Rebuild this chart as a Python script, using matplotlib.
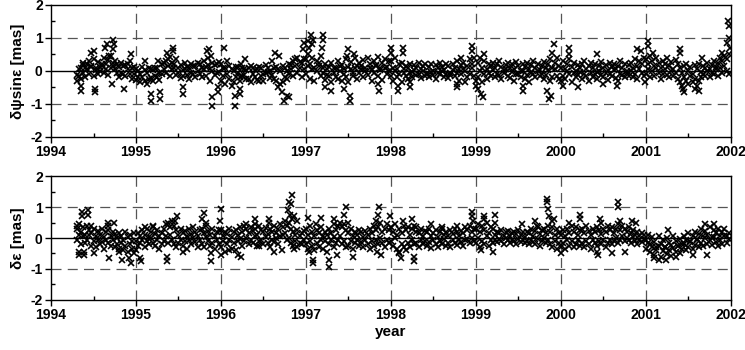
import numpy as np
import matplotlib
matplotlib.use("Agg")
from matplotlib import pyplot as plt
from matplotlib.ticker import MultipleLocator

plt.rcParams["font.family"] = ["Liberation Sans", "DejaVu Sans"]
plt.rcParams["font.weight"] = "bold"
plt.rcParams["axes.unicode_minus"] = False

# session epochs: one every 0.025 yr from 1994.300 to 2001.975
epochs = np.round(np.arange(1994.30, 2001.99, 0.025), 3)

# dpsi*sin(eps) [mas], two solutions per epoch, one row per year
dpsi_a = [
    -0.12, 0.05, -0.25, 0.18, 0.10, 0.22, 0.30, 0.15, 0.35, 0.08, 0.28, 0.12, 0.20, 0.40, 0.05, 0.32, 0.45, 0.15, 0.30, -0.05, 0.12, 0.25, -0.10, 0.18, 0.05, 0.30, 0.10, -0.08,
    0.05, -0.20, -0.10, 0.12, -0.30, -0.05, 0.08, -0.22, 0.02, -0.15, 0.10, -0.28, 0.20, 0.05, 0.30, 0.15, 0.42, 0.25, 0.10, 0.35, -0.05, 0.18, 0.02, 0.25, -0.12, 0.08, 0.20, -0.08, 0.15, 0.00, 0.22, 0.10, 0.30, 0.12, 0.40, 0.05, 0.25, 0.18, -0.05, 0.28,
    0.20, -0.15, 0.10, 0.30, -0.25, 0.05, -0.35, 0.12, -0.05, -0.20, 0.10, -0.12, 0.02, -0.25, 0.15, -0.08, -0.18, 0.05, -0.30, 0.08, -0.10, 0.18, -0.02, -0.22, 0.30, 0.10, -0.30, 0.05, -0.40, 0.15, -0.20, 0.00, 0.22, 0.05, 0.30, 0.15, 0.40, 0.10, 0.25, 0.35,
    0.35, 0.50, 0.20, 0.40, 0.10, 0.30, 0.15, 0.45, -0.05, 0.20, 0.05, -0.15, 0.25, 0.10, -0.20, 0.30, 0.00, 0.18, -0.10, 0.35, 0.12, 0.28, -0.05, 0.40, 0.15, 0.25, 0.05, 0.32, 0.10, 0.38, 0.22, 0.05, 0.30, 0.15, 0.42, 0.08, 0.25, 0.35, 0.12, 0.30,
    0.30, 0.10, 0.40, 0.05, 0.20, 0.25, -0.05, 0.15, 0.08, 0.22, -0.02, 0.18, 0.10, 0.25, 0.05, 0.15, 0.20, -0.05, 0.12, 0.22, 0.00, 0.18, 0.08, 0.25, 0.12, 0.02, 0.20, 0.15, -0.05, 0.22, 0.10, 0.30, 0.05, 0.18, 0.25, 0.00, 0.15, 0.35, 0.20, 0.40,
    -0.30, 0.25, 0.40, 0.10, 0.30, 0.05, 0.22, 0.15, 0.25, 0.08, 0.20, 0.30, 0.12, 0.02, 0.18, 0.25, 0.10, 0.22, 0.05, 0.28, 0.15, 0.00, 0.20, 0.12, 0.25, 0.05, 0.18, 0.30, 0.10, 0.22, 0.02, 0.15, 0.28, 0.08, 0.20, 0.35, 0.10, 0.25, 0.40, 0.15,
    0.10, 0.30, 0.05, 0.20, 0.35, 0.12, 0.25, 0.00, 0.18, 0.08, 0.22, 0.30, 0.05, 0.15, 0.25, 0.10, 0.20, -0.02, 0.15, 0.28, 0.08, 0.18, 0.02, 0.25, 0.12, 0.20, 0.05, 0.15, 0.30, 0.10, 0.22, 0.00, 0.18, 0.25, 0.08, 0.35, 0.15, 0.30, 0.20, 0.40,
    0.35, 0.20, 0.45, 0.30, 0.15, 0.40, 0.25, 0.10, 0.30, 0.22, 0.38, 0.15, 0.28, 0.05, 0.32, 0.20, 0.10, -0.05, 0.15, 0.20, 0.00, 0.12, -0.10, 0.18, 0.05, 0.22, -0.02, 0.15, 0.10, 0.25, 0.05, 0.18, 0.30, 0.12, 0.25, 0.40, 0.30, 0.45, 0.35, 0.50,
]
dpsi_b = [
    -0.30, -0.15, 0.10, -0.05, -0.20, 0.05, -0.08, 0.12, -0.15, 0.02, -0.10, 0.00, 0.15, -0.05, 0.22, -0.12, 0.10, 0.25, 0.05, 0.20, -0.20, -0.05, 0.15, -0.15, 0.22, -0.10, -0.25, 0.12,
    -0.28, 0.00, -0.35, -0.18, 0.02, -0.40, -0.25, 0.05, -0.32, 0.08, -0.20, -0.05, -0.10, 0.25, -0.05, 0.35, -0.15, 0.05, 0.22, -0.12, 0.10, -0.22, -0.15, 0.05, 0.12, -0.25, -0.05, 0.15, -0.18, 0.25, -0.10, -0.20, 0.05, -0.15, 0.18, -0.30, 0.00, -0.12, 0.20, -0.02,
    -0.30, 0.08, -0.40, -0.10, 0.15, -0.45, 0.00, -0.20, 0.12, -0.30, -0.15, 0.05, -0.25, 0.08, -0.35, 0.10, 0.02, -0.28, 0.12, -0.15, -0.32, -0.05, 0.10, 0.00, -0.12, -0.25, 0.12, -0.50, 0.00, -0.35, 0.10, -0.25, -0.10, 0.18, -0.15, 0.35, -0.05, 0.28, -0.20, 0.05,
    -0.10, 0.15, -0.25, 0.05, -0.30, 0.00, 0.25, -0.15, 0.10, -0.28, -0.12, 0.12, -0.35, -0.05, 0.08, -0.25, 0.15, -0.30, 0.05, -0.20, -0.35, 0.05, -0.15, 0.10, -0.25, -0.05, 0.15, -0.18, 0.00, -0.12, 0.08, -0.30, -0.05, 0.18, -0.15, 0.02, -0.28, 0.10, -0.10, 0.00,
    -0.15, -0.30, 0.00, -0.20, -0.10, -0.35, 0.05, -0.15, -0.25, -0.05, -0.18, 0.02, -0.12, -0.08, -0.22, 0.00, -0.15, -0.10, -0.20, -0.02, -0.12, -0.25, -0.05, -0.10, 0.00, -0.18, -0.08, -0.22, -0.12, 0.02, -0.15, -0.05, -0.30, -0.10, 0.05, -0.35, -0.20, -0.08, 0.10, -0.15,
    -0.45, -0.20, 0.00, -0.35, -0.10, -0.25, -0.05, -0.15, 0.02, -0.20, -0.08, -0.12, -0.25, -0.05, 0.05, -0.15, -0.22, -0.02, -0.30, -0.10, -0.08, -0.18, 0.00, -0.25, -0.12, -0.35, -0.05, -0.10, -0.20, 0.00, -0.15, -0.08, -0.25, -0.12, 0.02, -0.30, -0.18, 0.05, -0.15, -0.25,
    -0.30, -0.15, -0.25, 0.00, -0.10, -0.35, -0.05, -0.20, -0.12, -0.02, -0.25, -0.08, -0.15, -0.30, -0.05, -0.18, -0.10, -0.25, 0.00, -0.12, -0.20, -0.05, -0.28, -0.10, -0.15, 0.02, -0.22, -0.30, -0.08, -0.12, -0.18, -0.05, -0.15, 0.00, -0.20, -0.10, -0.25, 0.05, -0.05, -0.15,
    -0.10, 0.05, -0.20, 0.00, -0.15, 0.08, -0.05, -0.25, -0.10, 0.05, -0.12, -0.20, 0.00, -0.15, -0.05, -0.25, -0.35, -0.45, -0.20, -0.30, -0.40, -0.15, -0.35, -0.25, -0.45, -0.30, -0.20, -0.10, -0.15, 0.00, -0.20, -0.05, -0.10, 0.05, -0.15, 0.10, -0.05, 0.15, 0.00, -0.10,
]
# scattered single solutions away from the main band (epoch, value)
dpsi_outliers = [
    (1994.35, -0.45), (1994.35, -0.60), (1994.38, 0.25), (1994.47, 0.55), (1994.50, 0.60), (1994.52, -0.55),
    (1994.52, -0.65), (1994.64, 0.70), (1994.66, 0.80), (1994.68, 0.45), (1994.73, 0.95), (1994.74, 0.80),
    (1994.73, 0.65), (1994.72, -0.40), (1994.86, -0.55), (1994.94, 0.50), (1995.10, 0.30), (1995.18, -0.70),
    (1995.18, -0.90), (1995.28, -0.65), (1995.28, -0.85), (1995.26, 0.30), (1995.36, 0.55), (1995.44, 0.70),
    (1995.44, 0.60), (1995.55, -0.50), (1995.55, -0.70), (1995.84, 0.60), (1995.86, 0.65), (1995.88, 0.45),
    (1995.90, -0.80), (1995.90, -1.05), (1995.96, -0.50), (1995.96, -0.65), (1996.04, 0.70), (1996.17, -0.75),
    (1996.17, -1.05), (1996.22, -0.70), (1996.22, -0.55), (1996.24, 0.20), (1996.28, 0.35), (1996.63, 0.55),
    (1996.68, 0.45), (1996.72, -0.65), (1996.74, -0.90), (1996.78, -0.75), (1996.80, -0.80), (1996.97, 0.65),
    (1996.98, 0.85), (1997.02, 0.90), (1997.04, 0.70), (1997.06, 1.10), (1997.08, 0.95), (1997.07, 0.80),
    (1997.20, 1.10), (1997.20, 0.95), (1997.19, 0.70), (1997.22, -0.50), (1997.30, -0.60), (1997.45, -0.55),
    (1997.48, 0.45), (1997.50, 0.65), (1997.52, -0.75), (1997.52, -0.90), (1997.57, 0.50), (1997.85, -0.40),
    (1997.86, -0.60), (1998.00, 0.70), (1998.00, 0.55), (1998.08, -0.45), (1998.08, -0.60), (1998.14, 0.70),
    (1998.14, 0.55), (1998.23, -0.35), (1998.23, -0.50), (1998.78, -0.40), (1998.78, -0.50), (1998.95, 0.75),
    (1998.95, 0.60), (1998.82, 0.40), (1999.02, -0.55), (1999.06, -0.70), (1999.08, -0.80), (1999.10, 0.50),
    (1999.55, -0.45), (1999.55, -0.60), (1999.84, -0.60), (1999.86, -0.85), (1999.88, -0.75), (1999.92, 0.80),
    (1999.90, 0.55), (2000.02, -0.45), (2000.10, 0.70), (2000.10, 0.50), (2000.20, -0.50), (2000.42, 0.50),
    (2000.50, -0.40), (2000.66, -0.45), (2000.90, 0.65), (2000.94, 0.60), (2000.99, -0.35), (2001.02, 0.90),
    (2001.02, 0.75), (2001.08, 0.55), (2001.40, 0.65), (2001.40, 0.55), (2001.44, -0.55), (2001.45, -0.65),
    (2001.58, -0.55), (2001.62, -0.60), (2001.66, 0.40), (2001.90, 0.55), (2001.97, 1.50), (2001.98, 1.35),
    (2001.98, 1.00), (2001.96, 0.85), (2001.99, 0.70),
]

# d-eps [mas]
deps_a = [
    0.30, 0.45, 0.20, 0.35, 0.10, 0.40, 0.25, 0.15, 0.30, 0.05, 0.22, 0.10, 0.28, 0.02, 0.18, 0.25, 0.05, 0.20, 0.12, 0.00, 0.15, 0.08, -0.05, 0.20, 0.02, 0.10, -0.10, 0.15,
    -0.10, 0.15, 0.05, 0.25, 0.10, 0.30, 0.02, 0.20, 0.35, 0.12, 0.25, 0.05, 0.15, 0.30, 0.45, 0.50, 0.35, 0.55, 0.40, 0.25, 0.10, 0.30, 0.15, 0.22, 0.05, 0.28, 0.12, 0.35, 0.20, 0.08, 0.25, 0.30, 0.15, 0.40, 0.22, 0.10, 0.30, 0.05, 0.18, 0.25,
    0.25, 0.05, 0.20, 0.12, 0.30, 0.02, 0.18, 0.25, 0.10, 0.35, 0.20, 0.40, 0.28, 0.15, 0.35, 0.22, 0.30, 0.10, 0.40, 0.25, 0.18, 0.32, 0.12, 0.28, 0.20, 0.38, 0.15, 0.30, 0.45, 0.35, 0.55, 0.40, 0.50, 0.30, 0.20, 0.10, 0.25, 0.05, 0.15, 0.22,
    0.30, 0.10, 0.40, 0.20, 0.05, 0.25, 0.15, 0.35, 0.05, 0.20, 0.10, 0.30, 0.15, 0.02, 0.25, 0.40, 0.50, 0.35, 0.45, 0.25, 0.15, 0.30, 0.05, 0.20, 0.10, 0.25, 0.18, 0.02, 0.22, 0.10, 0.30, 0.15, 0.40, 0.25, 0.35, 0.50, 0.20, 0.30, 0.45, 0.25,
    0.35, 0.20, 0.45, 0.10, 0.30, 0.15, 0.40, 0.25, 0.35, 0.10, 0.30, 0.40, 0.20, 0.15, 0.30, 0.05, 0.22, 0.18, 0.28, 0.08, 0.15, 0.25, 0.02, 0.20, 0.30, 0.10, 0.18, 0.05, 0.25, 0.12, 0.30, 0.20, 0.08, 0.22, 0.15, 0.35, 0.25, 0.40, 0.20, 0.30,
    0.30, 0.45, 0.20, 0.40, 0.25, 0.50, 0.15, 0.35, 0.28, 0.10, 0.20, 0.15, 0.25, 0.08, 0.18, 0.22, 0.05, 0.15, 0.20, 0.12, 0.25, 0.10, 0.18, 0.02, 0.20, 0.15, 0.28, 0.08, 0.22, 0.35, 0.12, 0.25, 0.30, 0.15, 0.40, 0.20, 0.35, 0.10, 0.30, 0.15,
    0.10, 0.25, 0.05, 0.30, 0.15, 0.40, 0.20, 0.35, 0.10, 0.25, 0.30, 0.15, 0.40, 0.22, 0.10, 0.28, 0.18, 0.35, 0.25, 0.12, 0.30, 0.20, 0.40, 0.25, 0.35, 0.15, 0.30, 0.45, 0.25, 0.40, 0.30, 0.20, 0.35, 0.15, 0.25, 0.10, 0.20, 0.05, 0.15, 0.10,
    -0.05, 0.10, -0.20, 0.02, -0.12, -0.28, 0.05, -0.18, -0.08, -0.30, 0.00, -0.15, -0.22, 0.05, -0.10, -0.25, -0.02, -0.18, 0.08, -0.05, 0.15, -0.10, 0.05, 0.20, -0.02, 0.12, 0.30, 0.05, 0.22, 0.10, 0.35, 0.02, 0.25, 0.15, 0.30, 0.05, 0.20, 0.28, 0.08, 0.15,
]
deps_b = [
    -0.05, 0.10, -0.20, 0.05, -0.15, -0.05, 0.10, -0.25, -0.10, -0.30, -0.05, -0.20, -0.12, -0.35, -0.08, -0.15, -0.25, -0.05, -0.30, -0.20, -0.35, -0.15, -0.40, -0.25, -0.45, -0.20, -0.35, -0.50,
    -0.40, -0.25, -0.15, -0.05, -0.30, -0.10, -0.20, 0.00, -0.15, -0.25, -0.05, -0.35, -0.20, -0.10, 0.05, -0.15, 0.10, -0.05, -0.20, -0.30, -0.15, -0.05, -0.25, -0.10, -0.35, -0.08, -0.20, 0.00, -0.12, -0.28, -0.05, -0.18, -0.30, 0.02, -0.10, -0.25, -0.15, -0.35, -0.05, -0.20,
    -0.30, -0.10, -0.45, -0.20, -0.05, -0.35, -0.15, -0.40, -0.10, -0.02, -0.25, -0.10, 0.00, -0.20, -0.08, -0.15, 0.05, -0.25, -0.10, -0.05, -0.20, 0.02, -0.15, -0.30, -0.05, -0.12, 0.00, -0.18, 0.05, 0.10, 0.15, -0.05, 0.00, -0.15, -0.25, -0.10, -0.30, -0.15, -0.20, -0.05,
    -0.20, -0.35, -0.10, -0.25, -0.40, -0.15, -0.30, -0.05, -0.35, -0.10, -0.45, -0.20, -0.05, -0.30, -0.15, -0.05, 0.05, -0.20, -0.10, -0.30, -0.25, -0.10, -0.35, -0.15, -0.05, -0.25, -0.12, -0.30, -0.08, -0.20, -0.35, -0.10, -0.25, -0.05, -0.20, 0.00, -0.15, -0.30, -0.05, -0.15,
    -0.10, -0.25, 0.00, -0.35, -0.45, -0.20, -0.30, -0.40, -0.15, -0.30, -0.05, -0.20, -0.15, -0.30, -0.05, -0.20, -0.10, -0.25, -0.12, -0.32, -0.05, -0.18, -0.28, -0.10, -0.20, -0.02, -0.25, -0.15, -0.30, -0.08, -0.15, -0.22, -0.05, -0.12, -0.25, -0.08, -0.02, -0.15, 0.00, -0.10,
    -0.15, 0.00, -0.30, -0.10, -0.20, 0.05, -0.25, -0.08, -0.15, -0.05, -0.12, -0.02, -0.10, -0.18, 0.00, -0.08, -0.15, -0.05, -0.10, -0.20, -0.02, -0.12, -0.05, -0.15, -0.10, -0.20, -0.05, -0.12, -0.18, -0.02, -0.25, -0.10, 0.00, -0.15, -0.08, -0.20, -0.30, -0.10, -0.35, -0.15,
    -0.30, -0.15, -0.35, -0.05, -0.25, -0.10, -0.30, -0.20, -0.05, -0.25, -0.15, -0.30, -0.10, -0.20, -0.35, -0.05, -0.15, -0.25, -0.10, -0.20, -0.05, -0.30, -0.15, -0.05, -0.20, -0.10, 0.00, -0.15, -0.05, 0.05, -0.10, 0.00, -0.05, -0.15, 0.02, -0.10, -0.20, -0.05, -0.12, -0.02,
    -0.35, -0.15, -0.45, -0.28, -0.55, -0.38, -0.25, -0.60, -0.42, -0.30, -0.52, -0.40, -0.58, -0.32, -0.45, -0.25, -0.48, -0.35, -0.20, -0.40, -0.28, -0.12, -0.35, -0.22, -0.05, -0.30, -0.15, -0.25, 0.00, -0.18, -0.08, -0.22, 0.02, -0.12, -0.25, -0.05, -0.18, 0.05, -0.15, -0.02,
]
deps_outliers = [
    (1994.31, 0.40), (1994.33, -0.45), (1994.33, -0.55), (1994.37, 0.70), (1994.37, 0.85), (1994.39, -0.45),
    (1994.39, -0.55), (1994.44, 0.90), (1994.44, 0.75), (1994.47, 0.40), (1994.50, -0.50), (1994.67, 0.50),
    (1994.67, 0.40), (1994.68, -0.65), (1994.74, 0.50), (1994.80, -0.45), (1994.84, -0.70), (1994.94, -0.80),
    (1994.92, -0.65), (1995.05, -0.65), (1995.06, -0.75), (1995.10, 0.35), (1995.20, 0.40), (1995.36, -0.60),
    (1995.36, -0.75), (1995.46, 0.55), (1995.48, 0.70), (1995.55, -0.45), (1995.78, 0.60), (1995.80, 0.80),
    (1995.82, 0.50), (1995.88, -0.50), (1995.88, -0.75), (1995.99, 0.55), (1996.00, 0.95), (1996.00, -0.55),
    (1996.10, -0.40), (1996.20, -0.55), (1996.24, -0.60), (1996.30, 0.45), (1996.40, 0.60), (1996.40, 0.45),
    (1996.45, -0.25), (1996.57, 0.60), (1996.57, 0.50), (1996.62, -0.45), (1996.72, -0.40), (1996.79, 0.90),
    (1996.80, 1.15), (1996.82, 1.10), (1996.83, 1.40), (1996.81, 0.75), (1996.84, 0.60), (1996.86, 0.70),
    (1996.86, -0.35), (1996.90, 0.55), (1997.02, 0.65), (1997.04, -0.45), (1997.08, -0.70), (1997.08, -0.80),
    (1997.12, 0.45), (1997.18, 0.65), (1997.27, -0.70), (1997.27, -0.95), (1997.33, 0.60), (1997.33, 0.45),
    (1997.37, -0.55), (1997.45, 0.75), (1997.47, 1.00), (1997.50, 0.50), (1997.55, -0.60), (1997.82, 0.55),
    (1997.85, 0.75), (1997.86, 1.00), (1997.84, -0.45), (1997.88, -0.55), (1997.99, 0.70), (1998.10, -0.50),
    (1998.12, -0.65), (1998.14, 0.55), (1998.25, 0.60), (1998.27, -0.60), (1998.27, -0.75), (1998.30, 0.35),
    (1998.47, 0.45), (1998.60, 0.35), (1998.78, 0.40), (1998.95, 0.85), (1998.95, 0.70), (1998.96, 0.55),
    (1999.09, 0.70), (1999.10, 0.60), (1999.06, -0.40), (1999.22, 0.75), (1999.23, 0.50), (1999.20, -0.45),
    (1999.54, 0.45), (1999.70, 0.55), (1999.72, 0.40), (1999.84, 1.25), (1999.84, 1.15), (1999.85, 0.95),
    (1999.86, 0.70), (1999.90, 0.55), (1999.92, 0.60), (2000.00, -0.50), (2000.10, 0.50), (2000.23, 0.75),
    (2000.23, 0.60), (2000.42, -0.45), (2000.44, -0.55), (2000.46, 0.60), (2000.47, 0.50), (2000.60, -0.50),
    (2000.67, 1.15), (2000.67, 1.00), (2000.70, 0.55), (2000.75, -0.45), (2000.84, 0.55), (2000.88, 0.50),
    (2001.10, -0.65), (2001.16, -0.70), (2001.24, -0.70), (2001.26, 0.25), (2001.36, -0.60), (2001.55, -0.55),
    (2001.70, 0.45), (2001.72, -0.55), (2001.80, 0.45),
]

years = list(range(1994, 2003))


def _panel(ax, a, b, outliers, ylabel):
    t_out = [o[0] for o in outliers]
    v_out = [o[1] for o in outliers]
    for t, v in [(epochs, a), (epochs, b), (t_out, v_out)]:
        ax.plot(t, v, linestyle="none", marker="x", markersize=3.8,
                markeredgewidth=1.2, color="black", zorder=3)
    ax.axhline(0, color="black", linewidth=1.0, zorder=2)
    for y in (-1, 1):
        ax.axhline(y, color="#555555", linewidth=0.9, dashes=(8, 5), zorder=1)
    for yr in years[1:-1]:
        ax.axvline(yr, color="#555555", linewidth=0.9, dashes=(8, 5), zorder=1)
    ax.set_xlim(1994, 2002)
    ax.set_ylim(-2, 2)
    ax.set_xticks(years)
    ax.set_yticks([-2, -1, 0, 1, 2])
    ax.xaxis.set_minor_locator(MultipleLocator(0.5))
    ax.yaxis.set_minor_locator(MultipleLocator(0.5))
    ax.tick_params(which="major", direction="out", length=4, width=1,
                   labelsize=10, pad=2)
    ax.tick_params(which="minor", direction="in", length=3, width=1)
    ax.set_ylabel(ylabel, fontsize=11, fontweight="bold", labelpad=4)
    for s in ax.spines.values():
        s.set_linewidth(1.0)


fig = plt.figure(figsize=(7.45, 3.5), dpi=100)
ax1 = fig.add_axes([0.0685, 0.609, 0.9125, 0.377])
ax2 = fig.add_axes([0.0685, 0.143, 0.9125, 0.354])

_panel(ax1, dpsi_a, dpsi_b, dpsi_outliers, "δψsinε [mas]")
_panel(ax2, deps_a, deps_b, deps_outliers, "δε [mas]")
ax2.set_xlabel("year", fontsize=11, fontweight="bold", labelpad=2)

fig.savefig("out.png", dpi=100)
